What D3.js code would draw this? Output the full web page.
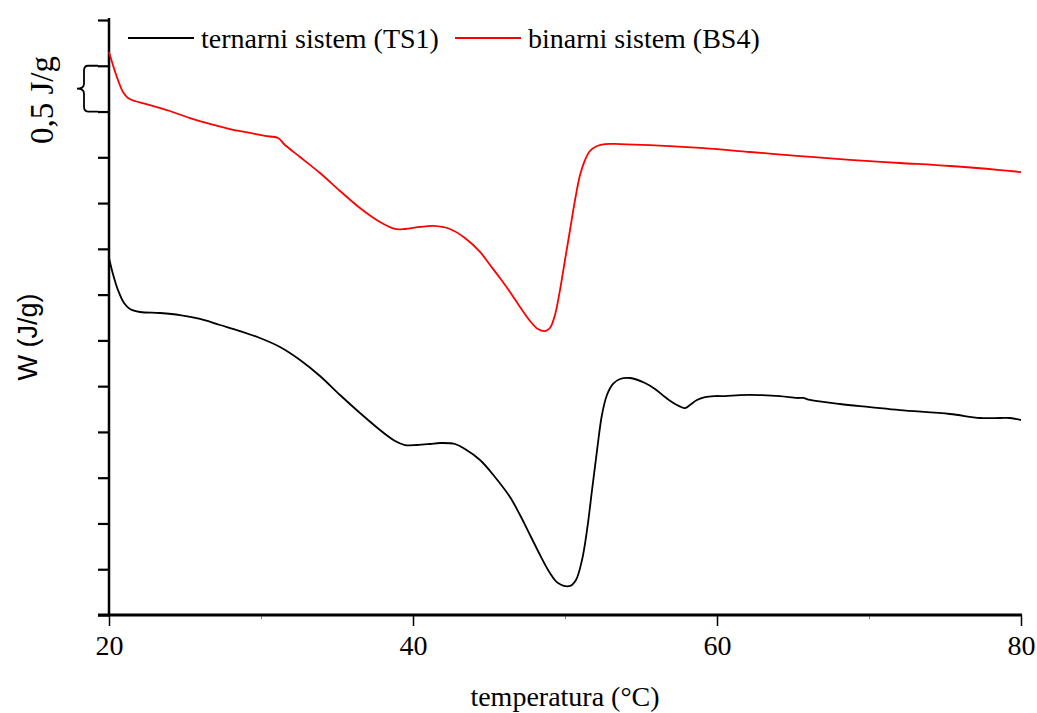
<!DOCTYPE html>
<html>
<head>
<meta charset="utf-8">
<script src="https://cdn.jsdelivr.net/npm/d3@7"></script>
<style>
  html, body { margin: 0; padding: 0; background: #fff; }
  svg { display: block; }
</style>
</head>
<body>
<svg id="chart" width="1037" height="713"></svg>
<script>
// ---- data ----
const seriesNames = ["ternarni sistem (TS1)", "binarni sistem (BS4)"];
const seriesColors = ["#000000", "#ff0000"];

// binarni sistem (BS4): temperature (°C)
const bs4T = [20.00, 20.26, 20.59, 20.92, 21.25, 21.71, 22.70, 24.01, 25.33, 26.64, 27.96, 29.28, 30.26, 31.12, 31.58,
  32.57, 33.88, 35.20, 36.51, 37.83, 38.82, 39.47, 40.46, 41.32, 42.43, 43.42, 44.41, 45.07, 45.72, 46.38,
  47.04, 47.70, 48.22, 48.68, 49.01, 49.34, 49.67, 50.00, 50.33, 50.66, 50.99, 51.32, 51.64, 52.11, 52.63,
  53.62, 55.59, 58.88, 62.17, 65.46, 68.75, 72.04, 75.33, 78.62, 80.00];
// binarni sistem (BS4): W (J/g), shifted
const bs4W = [6.150, 6.008, 5.844, 5.713, 5.648, 5.615, 5.571, 5.506, 5.429, 5.364, 5.309, 5.266, 5.233, 5.211, 5.134,
  5.003, 4.829, 4.632, 4.446, 4.293, 4.217, 4.217, 4.239, 4.250, 4.217, 4.118, 3.966, 3.823, 3.681, 3.529,
  3.365, 3.212, 3.124, 3.102, 3.135, 3.277, 3.550, 3.878, 4.206, 4.534, 4.807, 4.971, 5.069, 5.123, 5.145,
  5.145, 5.134, 5.102, 5.058, 5.014, 4.971, 4.938, 4.905, 4.861, 4.839];

// ternarni sistem (TS1): temperature (°C)
const ts1T = [20.00, 20.26, 20.59, 20.99, 21.38, 22.04, 23.36, 24.67, 25.99, 27.30, 28.62, 29.93, 31.25, 32.57, 33.88,
  35.20, 36.51, 37.83, 38.82, 39.47, 40.26, 41.12, 41.78, 42.76, 43.42, 44.41, 45.39, 46.38, 47.04, 47.70,
  48.36, 49.01, 49.54, 50.33, 50.72, 51.12, 51.45, 51.78, 52.11, 52.43, 52.76, 53.16, 53.62, 54.28, 55.26,
  55.92, 56.58, 57.24, 57.89, 58.22, 58.68, 59.21, 59.87, 60.53, 61.51, 62.83, 64.14, 65.26, 65.66, 66.12,
  68.09, 70.07, 72.04, 75.33, 77.30, 78.62, 79.28, 80.00];
// ternarni sistem (TS1): W (J/g)
const ts1W = [3.900, 3.725, 3.550, 3.408, 3.343, 3.310, 3.299, 3.277, 3.234, 3.168, 3.102, 3.026, 2.928, 2.786, 2.611,
  2.403, 2.207, 2.021, 1.901, 1.857, 1.857, 1.868, 1.879, 1.868, 1.813, 1.693, 1.508, 1.289, 1.092, 0.874,
  0.655, 0.459, 0.350, 0.317, 0.382, 0.601, 0.929, 1.366, 1.802, 2.185, 2.403, 2.524, 2.578, 2.589, 2.534,
  2.469, 2.381, 2.305, 2.261, 2.294, 2.349, 2.381, 2.392, 2.392, 2.403, 2.403, 2.392, 2.371, 2.371, 2.349,
  2.305, 2.272, 2.239, 2.196, 2.152, 2.152, 2.152, 2.130];

const xTicks = [20, 40, 60, 80];
const xMinorTicks = [30, 50, 70];
const yTicks = d3.range(0, 6.5001, 0.5);
const scaleBarLabel = "0,5 J/g";
const xTitle = "temperatura (°C)";
const yTitle = "W (J/g)";

// ---- layout ----
const svg = d3.select("#chart");
const x0 = 109, x1 = 1021, yBottom = 615, yTop = 20;
const x = d3.scaleLinear().domain([20, 80]).range([x0, x1]);
const y = d3.scaleLinear().domain([0, 6.5]).range([yBottom, yTop]);
const serif = "'Liberation Serif', 'Times New Roman', serif";
const sans = "'Liberation Sans', Arial, sans-serif";

// y axis
const yAxis = svg.append("g").attr("transform", `translate(${x0},0)`)
  .call(d3.axisLeft(y).tickValues(yTicks).tickSize(11).tickFormat(""));
yAxis.select(".domain").remove();
yAxis.selectAll(".tick line").attr("stroke", "#000").attr("stroke-width", 2.2);
svg.append("line").attr("x1", x0).attr("x2", x0).attr("y1", yTop - 2).attr("y2", yBottom)
  .attr("stroke", "#000").attr("stroke-width", 2.5);

// x axis
const xAxis = svg.append("g").attr("transform", `translate(0,${yBottom})`)
  .call(d3.axisBottom(x).tickValues(xTicks).tickSize(11).tickPadding(9).tickFormat(d3.format("d")));
xAxis.select(".domain").remove();
xAxis.selectAll(".tick line").attr("stroke", "#000").attr("stroke-width", 1.5);
xAxis.selectAll(".tick text").attr("font-family", serif).attr("font-size", 28).attr("fill", "#000");
const xMinor = svg.append("g").attr("transform", `translate(0,${yBottom})`)
  .call(d3.axisBottom(x).tickValues(xMinorTicks).tickSize(4).tickFormat(""));
xMinor.select(".domain").remove();
xMinor.selectAll(".tick line").attr("stroke", "#888").attr("stroke-width", 1);
svg.append("line").attr("x1", x0 - 11).attr("x2", x1 + 1).attr("y1", yBottom).attr("y2", yBottom)
  .attr("stroke", "#000").attr("stroke-width", 2.8);

// curves
const line = d3.line().x(d => x(d[0])).y(d => y(d[1])).curve(d3.curveCatmullRom.alpha(0.5));
const ts1 = ts1T.map((t, i) => [t, ts1W[i]]);
const bs4 = bs4T.map((t, i) => [t, bs4W[i]]);
svg.append("path").datum(ts1).attr("d", line).attr("fill", "none")
  .attr("stroke", seriesColors[0]).attr("stroke-width", 1.8);
svg.append("path").datum(bs4).attr("d", line).attr("fill", "none")
  .attr("stroke", seriesColors[1]).attr("stroke-width", 1.8);

// legend
const legendItems = [{ x: 128, name: seriesNames[0], color: seriesColors[0] },
                     { x: 455, name: seriesNames[1], color: seriesColors[1] }];
const lg = svg.append("g");
legendItems.forEach(it => {
  lg.append("line").attr("x1", it.x).attr("x2", it.x + 66).attr("y1", 38).attr("y2", 38)
    .attr("stroke", it.color).attr("stroke-width", 1.8);
  lg.append("text").attr("x", it.x + 73).attr("y", 48).attr("font-family", serif)
    .attr("font-size", 28).attr("fill", "#000").text(it.name);
});

// scale bar brace between ticks 5.5 and 6.0 (0,5 J/g)
const bTop = y(6.0), bBot = y(5.5), bMid = (bTop + bBot) / 2;
const bx = 84, bxEnd = 98, tip = 77;
svg.append("path")
  .attr("d", `M${bxEnd},${bTop} L${bx + 4},${bTop} Q${bx},${bTop} ${bx},${bTop + 5}
              L${bx},${bMid - 5} Q${bx},${bMid} ${tip},${bMid}
              Q${bx},${bMid} ${bx},${bMid + 5} L${bx},${bBot - 5} Q${bx},${bBot} ${bx + 4},${bBot} L${bxEnd},${bBot}`)
  .attr("fill", "none").attr("stroke", "#000").attr("stroke-width", 1.8);
svg.append("text")
  .attr("transform", `translate(53,100) rotate(-90)`)
  .attr("text-anchor", "middle").attr("font-family", serif).attr("font-size", 33)
  .attr("fill", "#000").text(scaleBarLabel);

// axis titles
svg.append("text").attr("x", (x0 + x1) / 2).attr("y", 706).attr("text-anchor", "middle")
  .attr("font-family", serif).attr("font-size", 28).attr("fill", "#000").text(xTitle);
svg.append("text")
  .attr("transform", `translate(37,337) rotate(-90)`)
  .attr("text-anchor", "middle").attr("font-family", sans).attr("font-size", 27)
  .attr("fill", "#000").text(yTitle);
</script>
</body>
</html>
